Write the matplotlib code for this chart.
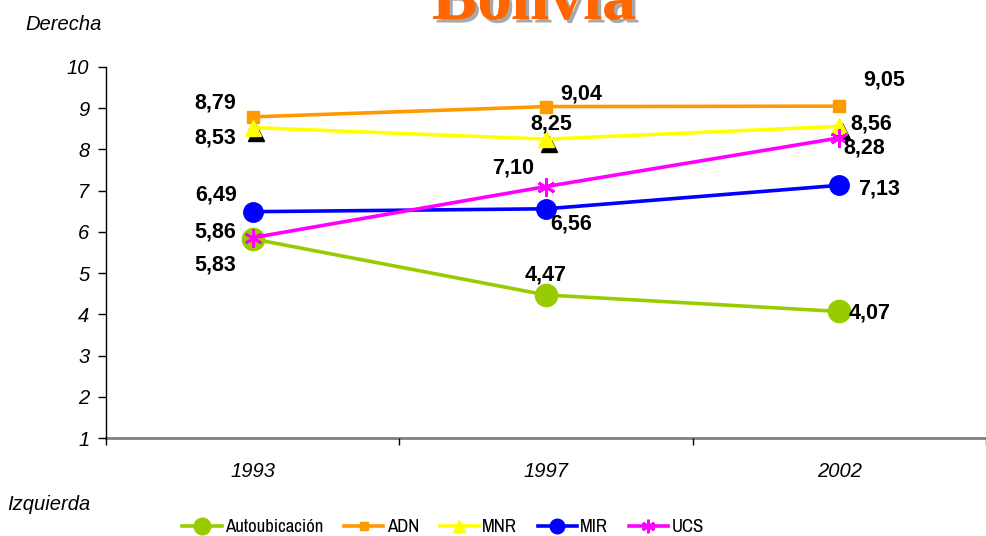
import matplotlib
matplotlib.use("Agg")
import matplotlib.pyplot as plt
import matplotlib.transforms as mtransforms
import matplotlib.patheffects as pe
from matplotlib.font_manager import fontManager

years = ["1993", "1997", "2002"]
autoubicacion = [5.83, 4.47, 4.07]
adn = [8.79, 9.04, 9.05]
mnr = [8.53, 8.25, 8.56]
mir = [6.49, 6.56, 7.13]
ucs = [5.86, 7.10, 8.28]
yticks = [1, 2, 3, 4, 5, 6, 7, 8, 9, 10]

# look for a narrow / condensed sans font for the legend
narrow_name, narrow_stretch = None, 'normal'
for f in fontManager.ttflist:
    nm = f.name.lower()
    if 'narrow' in nm or 'condensed' in nm:
        narrow_name, narrow_stretch = f.name, f.stretch
        break
    if f.name in ('DejaVu Sans', 'Liberation Sans', 'Open Sans', 'Noto Sans', 'Roboto') and \
            str(f.stretch) in ('condensed', 'semi-condensed', '87.5', '75') and f.style == 'normal':
        narrow_name, narrow_stretch = f.name, f.stretch
if narrow_name:
    leg_prop = {'family': [narrow_name, 'DejaVu Sans'], 'stretch': narrow_stretch, 'size': 13.5}
else:
    leg_prop = {'family': ['Liberation Sans', 'DejaVu Sans'], 'size': 11.5}

plt.rcParams['font.family'] = ['Liberation Sans', 'DejaVu Sans']

fig = plt.figure(figsize=(9.86, 5.36), dpi=100)
ax = fig.add_axes([106/986, 1-438/536, 880/986, (438-67)/536])

x = list(range(len(years)))

series = [
    ("Autoubicación", autoubicacion, dict(color="#99CC00", marker="o", markersize=16, lw=2.6)),
    ("ADN", adn, dict(color="#FF9900", marker="s", markersize=8.5, lw=2.6)),
    ("MNR", mnr, dict(color="#FFFF00", marker="^", markersize=11, lw=2.6)),
    ("MIR", mir, dict(color="#0000FF", marker="o", markersize=14, lw=2.6)),
    ("UCS", ucs, dict(color="#FF00FF", marker=(6, 2, 0), markersize=13, lw=2.6, mew=2)),
]

handles = []
for name, vals, st in series:
    if name == "MNR":
        shadow = mtransforms.offset_copy(ax.transData, fig=fig, x=3, y=-5, units='dots')
        ax.plot(x, vals, linestyle='none', marker='^', markersize=11,
                color='black', transform=shadow, zorder=2.5)
    mew = st.pop("mew", 1)
    ln, = ax.plot(x, vals, label=name, mec=st["color"], mew=mew, zorder=3, **st)
    handles.append(ln)

# data label offsets in pixels
labels = {
    "Autoubicación": [(-37, -26), (0, 20), (30, -2)],
    "ADN": [(-37, 14), (35, 13), (45, 26)],
    "MNR": [(-37, -10), (5, 15), (32, 2)],
    "MIR": [(-37, 17), (25, -15), (40, -4)],
    "UCS": [(-37, 6), (-33, 19), (25, -10)],
}
for name, vals, st in series:
    for xi, v, off in zip(x, vals, labels[name]):
        ax.annotate(f"{v:.2f}".replace(".", ","), (xi, v), xytext=off,
                    textcoords='offset pixels', ha='center', va='center',
                    fontsize=15.5, fontweight='bold', color='black', zorder=5)

ax.set_xlim(-0.5, 2.5)
ax.set_ylim(1, 10)
ax.set_yticks(yticks)
ax.set_yticklabels([str(t) for t in yticks], fontstyle='italic', fontsize=14.5)
ax.set_xticks([-0.5, 0.5, 1.5, 2.5])
ax.set_xticklabels([])
ax.set_xticks(x, minor=True)
ax.set_xticklabels(years, minor=True, fontstyle='italic', fontsize=14.5)
ax.tick_params(axis='x', which='minor', length=0, pad=17)
ax.tick_params(axis='x', which='major', length=5, width=1, color='black', direction='out')
ax.tick_params(axis='y', length=6, width=1, pad=6, direction='out')
ax.spines['top'].set_visible(False)
ax.spines['right'].set_visible(False)
ax.spines['bottom'].set_color('#808080')
ax.spines['bottom'].set_linewidth(2)
ax.spines['left'].set_color('black')
ax.spines['left'].set_linewidth(1)
ax.spines['bottom'].set_zorder(1)

fig.text(64/986, 1-24/536, "Derecha", fontstyle='italic', fontsize=14.5, ha='center', va='center')
fig.text(49/986, 1-504/536, "Izquierda", fontstyle='italic', fontsize=14.5, ha='center', va='center')

title = fig.text(534/986, 1-19/536, "Bolivia", family=['Liberation Serif', 'DejaVu Serif'],
                 fontsize=49, fontweight='bold', color='#FF6600', ha='center', va='baseline')
title.set_path_effects([pe.withSimplePatchShadow(offset=(2.5, -2.5), shadow_rgbFace='#A8A8A8', alpha=1.0),
                        pe.Normal()])

leg = fig.legend(handles=handles, loc='center', bbox_to_anchor=(443/986, 1-527/536), ncol=5,
                 frameon=False, handlelength=2.1, handletextpad=0.17, columnspacing=1.1,
                 markerscale=0.75, prop=leg_prop)

fig.savefig("out.png", dpi=100)
